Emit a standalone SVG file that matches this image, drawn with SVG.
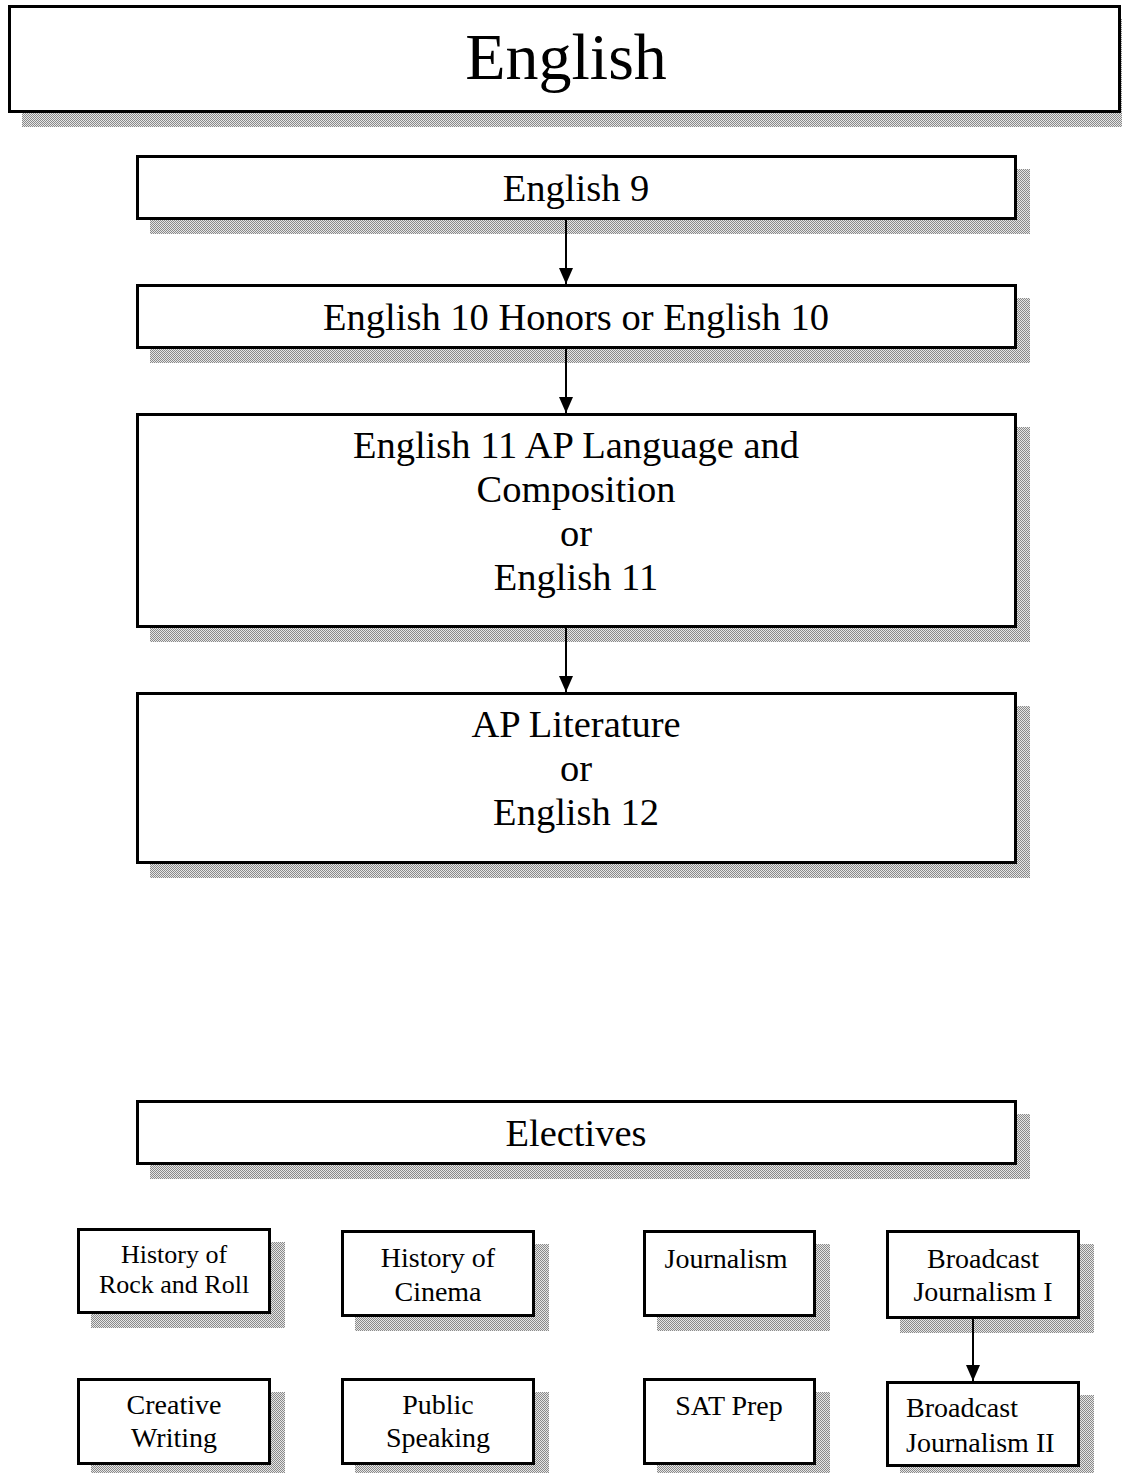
<svg xmlns="http://www.w3.org/2000/svg" width="1122" height="1473" viewBox="0 0 1122 1473">
<defs>
<pattern id="chk" patternUnits="userSpaceOnUse" width="2" height="2">
<rect width="2" height="2" fill="#e6e6e6"/>
<rect width="1" height="1" fill="#8a8a8a"/>
<rect x="1" y="1" width="1" height="1" fill="#8a8a8a"/>
</pattern>
<marker id="arr" viewBox="0 0 16 14" refX="16" refY="7" markerWidth="16" markerHeight="14" markerUnits="userSpaceOnUse" orient="auto">
<path d="M0,0 L16,7 L0,14 Z" fill="#000"/>
</marker>
</defs>
<style>
.sh{fill:url(#chk);}
.bx{fill:#fff;stroke:#000;stroke-width:3;}
.t{font-family:"Liberation Serif","Times New Roman",serif;fill:#000;text-anchor:middle;}
.l{text-anchor:start;}
.big{font-size:38.5px;}
.sm{font-size:28px;}
.xs{font-size:26px;}
.ln{stroke:#000;stroke-width:2;fill:none;}
</style>
<rect width="1122" height="1473" fill="#fff"/>

<g id="title">
<rect class="sh" x="22" y="19" width="1100" height="108"/>
<rect class="bx" x="9.5" y="6.5" width="1110" height="105"/>
<text class="t" x="566" y="79" font-size="66">English</text>
</g>

<g id="english9">
<rect class="sh" x="150" y="169" width="880" height="65"/>
<rect class="bx" x="137.5" y="156.5" width="878" height="62"/>
<text class="t big" x="576" y="201">English 9</text>
</g>

<g id="english10">
<rect class="sh" x="150" y="298" width="880" height="65"/>
<rect class="bx" x="137.5" y="285.5" width="878" height="62"/>
<text class="t big" x="576" y="330">English 10 Honors or English 10</text>
</g>

<g id="english11">
<rect class="sh" x="150" y="427" width="880" height="215"/>
<rect class="bx" x="137.5" y="414.5" width="878" height="212"/>
<text class="t big" x="576" y="458">English 11 AP Language and</text>
<text class="t big" x="576" y="502">Composition</text>
<text class="t big" x="576" y="546">or</text>
<text class="t big" x="576" y="590">English 11</text>
</g>

<g id="english12">
<rect class="sh" x="150" y="706" width="880" height="172"/>
<rect class="bx" x="137.5" y="693.5" width="878" height="169"/>
<text class="t big" x="576" y="737">AP Literature</text>
<text class="t big" x="576" y="781">or</text>
<text class="t big" x="576" y="825">English 12</text>
</g>

<g id="electives">
<rect class="sh" x="150" y="1114" width="880" height="65"/>
<rect class="bx" x="137.5" y="1101.5" width="878" height="62"/>
<text class="t big" x="576" y="1146">Electives</text>
</g>

<g id="rock">
<rect class="sh" x="91" y="1242" width="194" height="86"/>
<rect class="bx" x="78.5" y="1229.5" width="191" height="83"/>
<text class="t xs" x="174" y="1263">History of</text>
<text class="t xs" x="174" y="1293">Rock and Roll</text>
</g>

<g id="cinema">
<rect class="sh" x="355" y="1244" width="194" height="87"/>
<rect class="bx" x="342.5" y="1231.5" width="191" height="84"/>
<text class="t sm" x="438" y="1267">History of</text>
<text class="t sm" x="438" y="1301">Cinema</text>
</g>

<g id="journalism">
<rect class="sh" x="657" y="1244" width="173" height="87"/>
<rect class="bx" x="644.5" y="1231.5" width="170" height="84"/>
<text class="t sm" x="726" y="1268">Journalism</text>
</g>

<g id="bj1">
<rect class="sh" x="900" y="1244" width="194" height="89"/>
<rect class="bx" x="887.5" y="1231.5" width="191" height="86"/>
<text class="t sm" x="983" y="1268">Broadcast</text>
<text class="t sm" x="983" y="1301">Journalism I</text>
</g>

<g id="creative">
<rect class="sh" x="91" y="1392" width="194" height="87"/>
<rect class="bx" x="78.5" y="1379.5" width="191" height="84"/>
<text class="t sm" x="174" y="1414">Creative</text>
<text class="t sm" x="174" y="1447">Writing</text>
</g>

<g id="public">
<rect class="sh" x="355" y="1392" width="194" height="87"/>
<rect class="bx" x="342.5" y="1379.5" width="191" height="84"/>
<text class="t sm" x="438" y="1414">Public</text>
<text class="t sm" x="438" y="1447">Speaking</text>
</g>

<g id="sat">
<rect class="sh" x="657" y="1392" width="173" height="87"/>
<rect class="bx" x="644.5" y="1379.5" width="170" height="84"/>
<text class="t sm" x="729" y="1415">SAT Prep</text>
</g>

<g id="bj2">
<rect class="sh" x="900" y="1395" width="194" height="86"/>
<rect class="bx" x="887.5" y="1382.5" width="191" height="83"/>
<text class="t sm l" x="906" y="1417">Broadcast</text>
<text class="t sm l" x="906" y="1452">Journalism II</text>
</g>

<g id="connectors">
<line class="ln" x1="566" y1="220" x2="566" y2="284" marker-end="url(#arr)"/>
<line class="ln" x1="566" y1="349" x2="566" y2="413" marker-end="url(#arr)"/>
<line class="ln" x1="566" y1="628" x2="566" y2="692" marker-end="url(#arr)"/>
<line class="ln" x1="973" y1="1319" x2="973" y2="1381" marker-end="url(#arr)"/>
</g>
</svg>
